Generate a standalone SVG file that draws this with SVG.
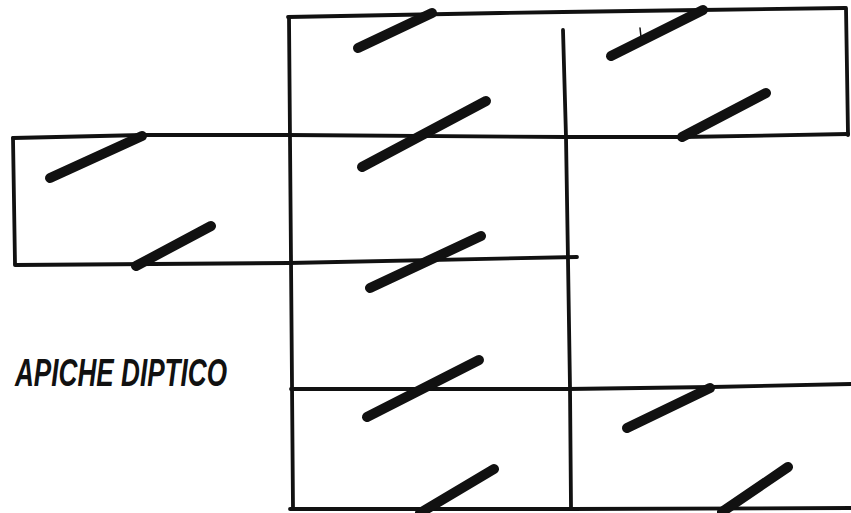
<svg xmlns="http://www.w3.org/2000/svg" width="851" height="513" viewBox="0 0 851 513">
  <style>
    .ln { fill: none; stroke: #111; stroke-width: 3.8; stroke-linecap: round; stroke-linejoin: round; }
    .sl { fill: none; stroke: #111; stroke-width: 10; stroke-linecap: round; }
    .tk { fill: none; stroke: #111; stroke-width: 1.5; stroke-linecap: round; }
    .lbl { font-family: "Liberation Sans", "DejaVu Sans", sans-serif; font-size: 38px; font-style: italic; font-weight: bold; fill: #111; }
  </style>
  <rect width="851" height="513" fill="#ffffff"/>
  <g id="frame">
    <polyline class="ln" points="288,17 500,13 563,12 700,10 845,8"/>
    <polyline class="ln" points="846,8 847,70 848,135"/>
    <polyline class="ln" points="289,18 291,260 293,509"/>
    <polyline class="ln" points="563,30 566,137 568,260 570,388 571,508"/>
    <polyline class="ln" points="13,138 143,135 289,135 566,137 683,137 848,134"/>
    <polyline class="ln" points="13,138 15,264"/>
    <polyline class="ln" points="15,265 289,263 577,257"/>
    <polyline class="ln" points="291,389 568,389 712,387 851,384"/>
    <polyline class="ln" points="290,509 570,509 851,508"/>
  </g>
  <g id="slashes">
    <line class="sl" x1="358" y1="48" x2="432" y2="13"/>
    <line class="sl" x1="611" y1="56" x2="703" y2="10"/>
    <line class="tk" x1="640" y1="28" x2="641" y2="37"/>
    <line class="sl" x1="362" y1="167" x2="486" y2="101"/>
    <line class="sl" x1="682" y1="137" x2="766" y2="93"/>
    <line class="sl" x1="50" y1="178" x2="142" y2="136"/>
    <line class="sl" x1="136" y1="266" x2="211" y2="226"/>
    <line class="sl" x1="370" y1="288" x2="481" y2="236"/>
    <line class="sl" x1="367" y1="417" x2="479" y2="360"/>
    <line class="sl" x1="420" y1="513" x2="494" y2="469"/>
    <line class="sl" x1="627" y1="428" x2="710" y2="388"/>
    <line class="sl" x1="722" y1="512" x2="788" y2="467"/>
  </g>
  <g id="label">
    <text class="lbl" x="15" y="386" textLength="212" lengthAdjust="spacingAndGlyphs">APICHE DIPTICO</text>
  </g>
</svg>
